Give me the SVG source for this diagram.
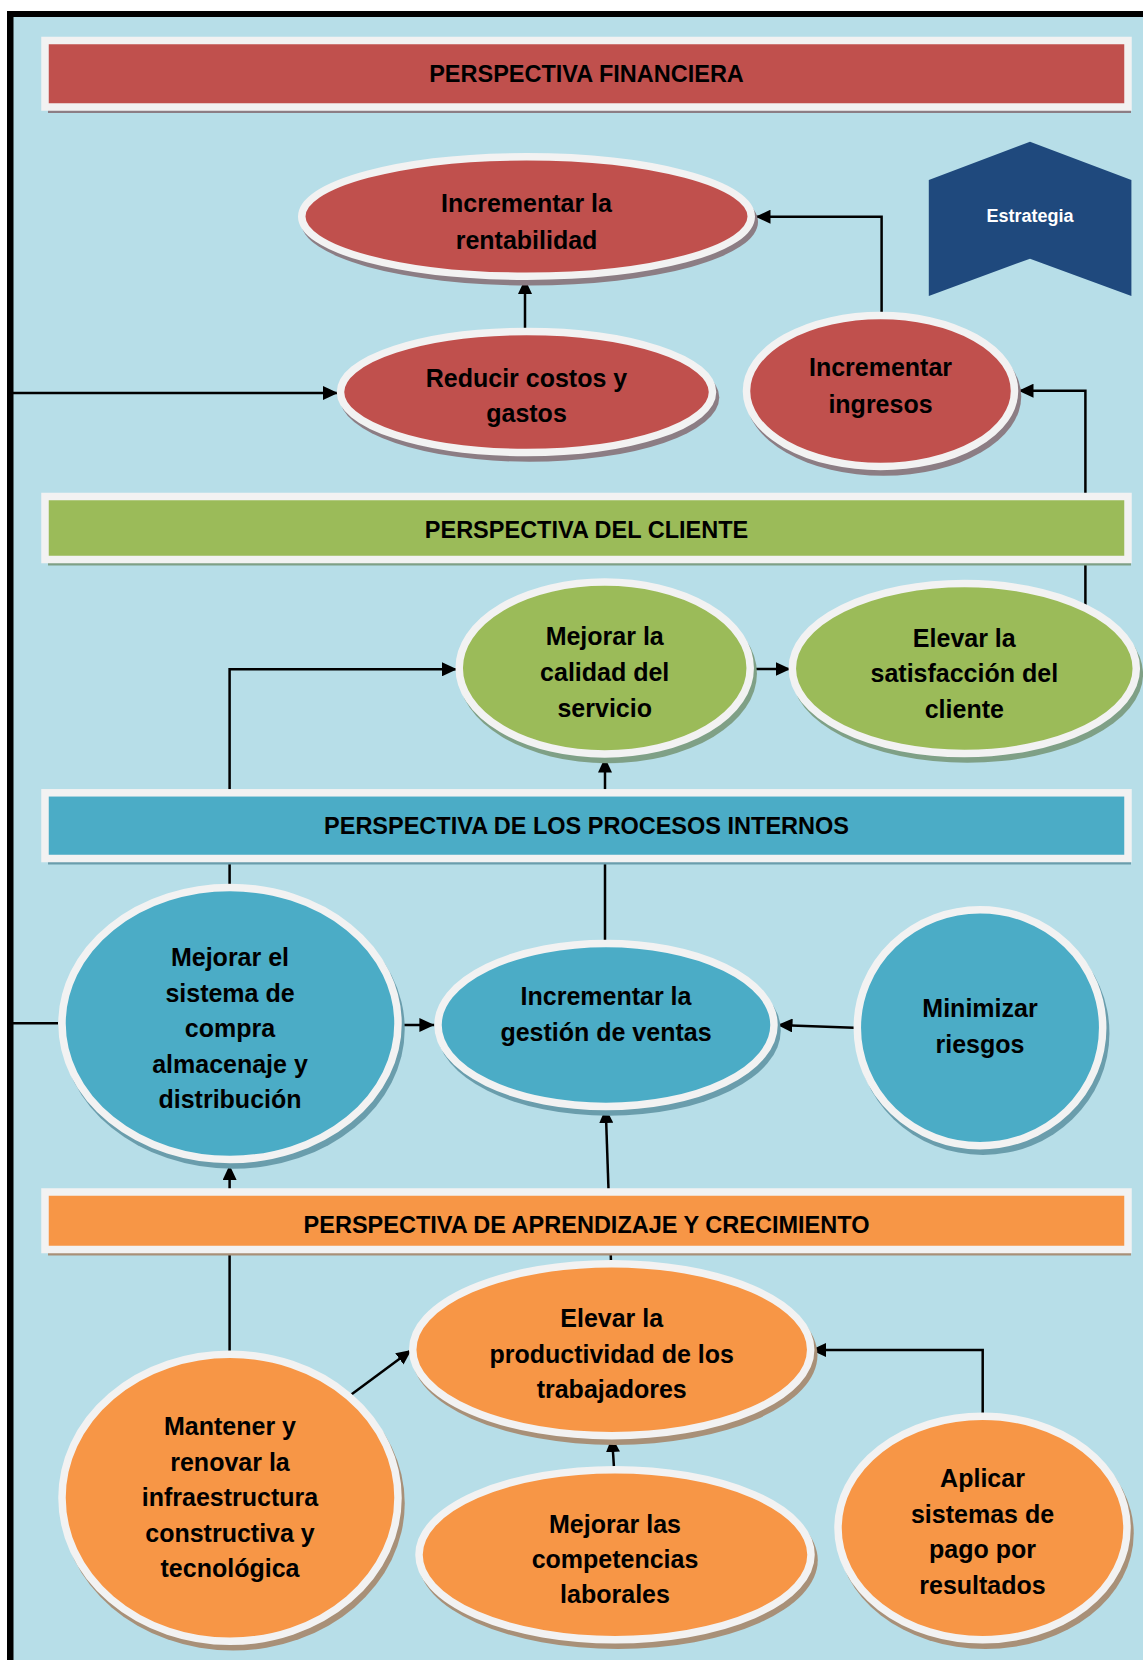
<svg xmlns="http://www.w3.org/2000/svg" width="1143" height="1660" viewBox="0 0 1143 1660">
<defs>
<style>
text{font-family:"Liberation Sans",Arial,sans-serif;font-weight:bold;text-anchor:middle;fill:#000}
.nt{font-size:25px}
.ht{font-size:23.5px}
.rim{stroke:#F2F2F2;stroke-width:7.5}
.red{fill:#C0504D}
.green{fill:#9BBB59}
.blue{fill:#4BACC6}
.orange{fill:#F79646}
.sred{fill:#8C7D84}
.sgreen{fill:#7FA086}
.sblue{fill:#6A9DAC}
.sorange{fill:#A89078}
.conn{stroke:#000;stroke-width:2.5;fill:none;marker-end:url(#ah)}
.line{stroke:#000;stroke-width:2.5;fill:none}
</style>
<marker id="ah" markerUnits="userSpaceOnUse" markerWidth="16" markerHeight="14" refX="15" refY="7" orient="auto">
<path d="M0,0 L15,7 L0,14 Z" fill="#000"/>
</marker>
</defs>
<rect x="0" y="0" width="1143" height="1660" fill="#FFFFFF"/>
<rect x="10" y="14" width="1133" height="1646" fill="#B7DEE8"/>
<g id="frame">
<rect x="7" y="11" width="1136" height="6" fill="#000"/>
<rect x="7" y="11" width="6.5" height="1649" fill="#000"/>
</g>
<g id="connectors">
<path class="conn" d="M58,1023.3 H10 V393 H338"/>
<path class="conn" d="M525,330 V279"/>
<path class="conn" d="M881.6,312 V216.7 H755.5"/>
<path class="conn" d="M1085.4,606 V390.7 H1018.5"/>
<path class="conn" d="M229.6,887 V669.3 H457"/>
<path class="conn" d="M750.4,669 H790.5"/>
<path class="conn" d="M605,942 V757.5"/>
<path class="conn" d="M401.8,1025 H434.4"/>
<path class="conn" d="M854,1027.7 L777.5,1025"/>
<path class="conn" d="M229.6,1352 V1165"/>
<path class="conn" d="M611,1262 L605.7,1108"/>
<path class="conn" d="M348.3,1396.7 L411.4,1350"/>
<path class="conn" d="M614,1468 L612,1437"/>
<path class="conn" d="M982.7,1413 V1350 H811"/>
</g>
<g id="bar-financiera">
<rect x="48" y="46.5" width="1083" height="66.5" class="sred"/>
<rect x="45" y="40.5" width="1083" height="66.5" class="red rim"/>
<text class="ht" x="586.5" y="81.7">PERSPECTIVA FINANCIERA</text>
</g>
<g id="bar-cliente">
<rect x="48" y="502.5" width="1083" height="63" class="sgreen"/>
<rect x="45" y="496.5" width="1083" height="63" class="green rim"/>
<text class="ht" x="586.5" y="538.3">PERSPECTIVA DEL CLIENTE</text>
</g>
<g id="bar-procesos">
<rect x="48" y="798.8" width="1083" height="65.7" class="sblue"/>
<rect x="45" y="792.8" width="1083" height="65.7" class="blue rim"/>
<text class="ht" x="586.5" y="834">PERSPECTIVA DE LOS PROCESOS INTERNOS</text>
</g>
<g id="bar-aprendizaje">
<rect x="48" y="1198" width="1083" height="57.5" class="sorange"/>
<rect x="45" y="1192" width="1083" height="57.5" class="orange rim"/>
<text class="ht" x="586.5" y="1232.7">PERSPECTIVA DE APRENDIZAJE Y CRECIMIENTO</text>
</g>
<g id="n-rentabilidad">
<ellipse cx="529.5" cy="222" rx="228.5" ry="63.5" class="sred"/>
<ellipse cx="526.5" cy="216.5" rx="224.75" ry="59.75" class="red rim"/>
<text class="nt" x="526.5" y="212">Incrementar la</text>
<text class="nt" x="526.5" y="249">rentabilidad</text>
</g>
<g id="n-reducir">
<ellipse cx="529.5" cy="397.5" rx="189.75" ry="64.25" class="sred"/>
<ellipse cx="526.5" cy="392" rx="186" ry="60.5" class="red rim"/>
<text class="nt" x="526.5" y="387">Reducir costos y</text>
<text class="nt" x="526.5" y="422">gastos</text>
</g>
<g id="n-ingresos">
<ellipse cx="883.5" cy="396.5" rx="137.75" ry="79.25" class="sred"/>
<ellipse cx="880.5" cy="391" rx="134" ry="75.5" class="red rim"/>
<text class="nt" x="880.5" y="376">Incrementar</text>
<text class="nt" x="880.5" y="413">ingresos</text>
</g>
<g id="n-estrategia">
<polygon points="928.8,180 1030,141.7 1131.4,180 1131.4,296 1030,258.7 928.8,296" fill="#1F497D"/>
<text x="1030" y="222" font-size="18" style="fill:#FFFFFF">Estrategia</text>
</g>
<g id="n-calidad">
<ellipse cx="607.7" cy="673.5" rx="149.25" ry="89.75" class="sgreen"/>
<ellipse cx="604.7" cy="668" rx="145.5" ry="86" class="green rim"/>
<text class="nt" x="604.7" y="645">Mejorar la</text>
<text class="nt" x="604.7" y="681">calidad del</text>
<text class="nt" x="604.7" y="717">servicio</text>
</g>
<g id="n-satisfaccion">
<ellipse cx="967.3" cy="674" rx="175.75" ry="88.75" class="sgreen"/>
<ellipse cx="964.3" cy="668.5" rx="172" ry="85" class="green rim"/>
<text class="nt" x="964.3" y="647">Elevar la</text>
<text class="nt" x="964.3" y="682">satisfacción del</text>
<text class="nt" x="964.3" y="718">cliente</text>
</g>
<g id="n-sistema">
<ellipse cx="233" cy="1029" rx="171.75" ry="139.75" class="sblue"/>
<ellipse cx="230" cy="1023.5" rx="168" ry="136" class="blue rim"/>
<text class="nt" x="230" y="966">Mejorar el</text>
<text class="nt" x="230" y="1001.5">sistema de</text>
<text class="nt" x="230" y="1037">compra</text>
<text class="nt" x="230" y="1072.5">almacenaje y</text>
<text class="nt" x="230" y="1108">distribución</text>
</g>
<g id="n-gestion">
<ellipse cx="609" cy="1030.5" rx="171.75" ry="85.25" class="sblue"/>
<ellipse cx="606" cy="1025" rx="168" ry="81.5" class="blue rim"/>
<text class="nt" x="606" y="1005">Incrementar la</text>
<text class="nt" x="606" y="1041">gestión de ventas</text>
</g>
<g id="n-minimizar">
<ellipse cx="983" cy="1033.2" rx="126.45" ry="121.75" class="sblue"/>
<ellipse cx="980" cy="1027.7" rx="122.7" ry="118" class="blue rim"/>
<text class="nt" x="980" y="1017">Minimizar</text>
<text class="nt" x="980" y="1053">riesgos</text>
</g>
<g id="n-productividad">
<ellipse cx="614.7" cy="1355.2" rx="202.75" ry="89.75" class="sorange"/>
<ellipse cx="611.7" cy="1349.7" rx="199" ry="86" class="orange rim"/>
<text class="nt" x="611.7" y="1327">Elevar la</text>
<text class="nt" x="611.7" y="1363">productividad de los</text>
<text class="nt" x="611.7" y="1398">trabajadores</text>
</g>
<g id="n-mantener">
<ellipse cx="233" cy="1503.3" rx="171.75" ry="147.25" class="sorange"/>
<ellipse cx="230" cy="1497.8" rx="168" ry="143.5" class="orange rim"/>
<text class="nt" x="230" y="1435">Mantener y</text>
<text class="nt" x="230" y="1470.5">renovar la</text>
<text class="nt" x="230" y="1506">infraestructura</text>
<text class="nt" x="230" y="1541.5">constructiva y</text>
<text class="nt" x="230" y="1577">tecnológica</text>
</g>
<g id="n-competencias">
<ellipse cx="618" cy="1560.2" rx="199.75" ry="88.75" class="sorange"/>
<ellipse cx="615" cy="1554.7" rx="196" ry="85" class="orange rim"/>
<text class="nt" x="615" y="1533">Mejorar las</text>
<text class="nt" x="615" y="1568">competencias</text>
<text class="nt" x="615" y="1603">laborales</text>
</g>
<g id="n-aplicar">
<ellipse cx="985.5" cy="1533.5" rx="148.25" ry="115.55" class="sorange"/>
<ellipse cx="982.5" cy="1528" rx="144.5" ry="111.8" class="orange rim"/>
<text class="nt" x="982.5" y="1487">Aplicar</text>
<text class="nt" x="982.5" y="1523">sistemas de</text>
<text class="nt" x="982.5" y="1558">pago por</text>
<text class="nt" x="982.5" y="1594">resultados</text>
</g>
</svg>
